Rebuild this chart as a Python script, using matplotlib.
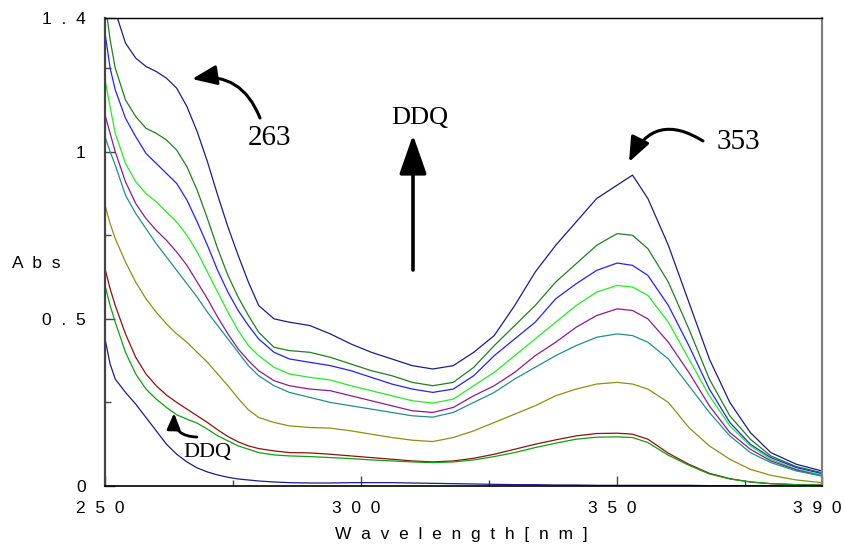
import matplotlib
matplotlib.use("Agg")
import matplotlib.pyplot as plt
import matplotlib.transforms as mtransforms
from matplotlib.ticker import FixedLocator

# ---------------- data ----------------
wavelength = [250, 251, 252, 254, 256, 258, 260, 262, 264, 266, 268, 270, 272, 274, 276, 278,
              280, 283, 286, 290, 294, 298, 302, 306, 310, 314, 318, 322, 326, 330, 334,
              338, 342, 346, 350, 353, 356, 360, 364, 368, 372, 376, 380, 385, 390]

abs_navy_top = [1.50, 1.46, 1.42, 1.325, 1.28, 1.255, 1.24, 1.22, 1.19, 1.135, 1.06, 0.97, 0.87, 0.775, 0.69, 0.61,
                0.54, 0.50, 0.49, 0.48, 0.455, 0.425, 0.40, 0.38, 0.36, 0.35, 0.36, 0.40, 0.45, 0.54, 0.64,
                0.72, 0.79, 0.86, 0.90, 0.93, 0.86, 0.72, 0.55, 0.38, 0.25, 0.16, 0.10, 0.065, 0.045]
abs_darkgreen = [1.45, 1.335, 1.25, 1.155, 1.105, 1.07, 1.055, 1.035, 1.005, 0.955, 0.885, 0.80, 0.71, 0.63, 0.565, 0.51,
                 0.46, 0.415, 0.405, 0.40, 0.385, 0.365, 0.345, 0.33, 0.31, 0.30, 0.31, 0.355, 0.42, 0.48, 0.54,
                 0.61, 0.665, 0.72, 0.755, 0.75, 0.71, 0.61, 0.47, 0.32, 0.21, 0.14, 0.09, 0.058, 0.04]
abs_blue = [1.355, 1.25, 1.185, 1.10, 1.045, 0.995, 0.965, 0.935, 0.905, 0.855, 0.79, 0.72, 0.645, 0.58, 0.525, 0.48,
            0.44, 0.40, 0.38, 0.37, 0.36, 0.345, 0.325, 0.305, 0.29, 0.28, 0.29, 0.33, 0.39, 0.44, 0.49,
            0.56, 0.605, 0.645, 0.667, 0.66, 0.63, 0.54, 0.42, 0.29, 0.19, 0.125, 0.085, 0.055, 0.037]
abs_lime = [1.215, 1.134, 1.055, 0.965, 0.91, 0.875, 0.85, 0.82, 0.79, 0.75, 0.70, 0.64, 0.58, 0.52, 0.465, 0.42,
            0.39, 0.355, 0.335, 0.325, 0.317, 0.30, 0.285, 0.27, 0.255, 0.248, 0.26, 0.30, 0.34, 0.39, 0.44,
            0.49, 0.54, 0.58, 0.60, 0.595, 0.57, 0.49, 0.38, 0.27, 0.18, 0.12, 0.08, 0.05, 0.033]
abs_purple = [1.11, 1.055, 1.00, 0.91, 0.845, 0.80, 0.765, 0.735, 0.70, 0.66, 0.61, 0.56, 0.505, 0.455, 0.41, 0.375,
              0.345, 0.315, 0.30, 0.29, 0.285, 0.27, 0.255, 0.24, 0.225, 0.22, 0.235, 0.27, 0.30, 0.34, 0.39,
              0.43, 0.475, 0.51, 0.53, 0.525, 0.50, 0.43, 0.34, 0.24, 0.16, 0.11, 0.075, 0.048, 0.03]
abs_teal = [1.045, 1.00, 0.96, 0.87, 0.815, 0.77, 0.725, 0.685, 0.645, 0.605, 0.565, 0.52, 0.48, 0.44, 0.40, 0.36,
            0.33, 0.30, 0.28, 0.265, 0.25, 0.24, 0.23, 0.22, 0.21, 0.206, 0.22, 0.25, 0.28, 0.32, 0.355,
            0.39, 0.42, 0.445, 0.455, 0.45, 0.43, 0.38, 0.30, 0.22, 0.15, 0.10, 0.07, 0.045, 0.03]
abs_olive = [0.84, 0.785, 0.74, 0.67, 0.61, 0.56, 0.52, 0.485, 0.455, 0.43, 0.40, 0.37, 0.335, 0.30, 0.262, 0.228,
             0.205, 0.19, 0.18, 0.175, 0.173, 0.165, 0.155, 0.145, 0.137, 0.133, 0.145, 0.165, 0.19, 0.215, 0.24,
             0.27, 0.29, 0.305, 0.31, 0.305, 0.29, 0.25, 0.175, 0.12, 0.08, 0.05, 0.032, 0.018, 0.01]
abs_darkred = [0.65, 0.59, 0.54, 0.455, 0.385, 0.335, 0.30, 0.272, 0.25, 0.23, 0.21, 0.19, 0.168, 0.148, 0.132, 0.12,
               0.112, 0.105, 0.10, 0.099, 0.095, 0.09, 0.085, 0.08, 0.075, 0.072, 0.075, 0.083, 0.095, 0.11, 0.125,
               0.138, 0.15, 0.157, 0.158, 0.155, 0.14, 0.098, 0.065, 0.038, 0.022, 0.012, 0.007, 0.004, 0.003]
abs_green = [0.60, 0.54, 0.49, 0.40, 0.335, 0.29, 0.26, 0.235, 0.213, 0.20, 0.188, 0.17, 0.15, 0.135, 0.12, 0.11,
             0.10, 0.093, 0.09, 0.088, 0.085, 0.082, 0.078, 0.075, 0.072, 0.07, 0.072, 0.078, 0.088, 0.10, 0.115,
             0.128, 0.14, 0.146, 0.147, 0.145, 0.13, 0.092, 0.062, 0.036, 0.021, 0.012, 0.007, 0.004, 0.003]
abs_navy_bottom = [0.44, 0.365, 0.32, 0.28, 0.245, 0.205, 0.165, 0.125, 0.095, 0.072, 0.054, 0.042, 0.033, 0.026, 0.021, 0.018,
                   0.015, 0.012, 0.01, 0.009, 0.009, 0.01, 0.01, 0.01, 0.009, 0.008, 0.007, 0.006, 0.005, 0.004, 0.004,
                   0.003, 0.003, 0.002, 0.002, 0.002, 0.002, 0.002, 0.002, 0.001, 0.001, 0.001, 0.001, 0.001, 0.001]

series = [abs_navy_top, abs_darkgreen, abs_blue, abs_lime, abs_purple, abs_teal,
          abs_olive, abs_darkred, abs_green, abs_navy_bottom]
colors = ['#1c1c8a', '#1f7f1f', '#2222ff', '#22ee22', '#8e1a8e', '#1f8f8f',
          '#8f8f10', '#8f1010', '#10a010', '#1c1c8a']

x_major = [250, 300, 350, 390]
x_major_labels = ['2  5  0', '3  0  0', '3  5  0', '3  9  0']
x_minor = [275, 325, 375]
y_major = [0, 0.5, 1.0, 1.4]
y_major_labels = ['0', '0  .  5', '1', '1  .  4']
y_minor = [0.25, 0.75, 1.25]

# ---------------- figure ----------------
W, H = 845, 544
fig = plt.figure(figsize=(W / 100, H / 100), dpi=100)
ax = fig.add_axes([105 / W, 1 - 486 / H, (822 - 105) / W, (486 - 18) / H])

for ys, c in zip(series, colors):
    ax.plot(wavelength, ys, color=c, lw=0.9, solid_joinstyle='round')

ax.set_xlim(250, 390)
ax.set_ylim(0, 1.4)

sans = 'Liberation Sans'
serif = 'Liberation Serif'

ax.set_xticks(x_major)
ax.set_xticklabels(x_major_labels, fontfamily=sans, fontsize=12.5)
ax.xaxis.set_minor_locator(FixedLocator(x_minor))
ax.set_yticks(y_major)
ax.set_yticklabels(y_major_labels, fontfamily=sans, fontsize=12.5)
ax.yaxis.set_minor_locator(FixedLocator(y_minor))

ax.tick_params(axis='both', which='major', direction='in', length=7, width=1.0, color='#444444')
ax.tick_params(axis='both', which='minor', direction='in', length=4.3, width=1.0, color='#444444')
ax.tick_params(axis='x', which='major', pad=11)
ax.tick_params(axis='y', which='major', pad=14)
ax.tick_params(top=False, right=False, which='both')

offset = mtransforms.ScaledTranslation(-5 / 100, 0, fig.dpi_scale_trans)
for lab in ax.get_xticklabels():
    lab.set_transform(lab.get_transform() + offset)

ax.spines['left'].set_color('#444444')
ax.spines['left'].set_linewidth(1.6)
ax.spines['right'].set_color('#808080')
ax.spines['right'].set_linewidth(1.6)
ax.spines['top'].set_color('black')
ax.spines['top'].set_linewidth(1.0)
ax.spines['bottom'].set_color('black')
ax.spines['bottom'].set_linewidth(1.2)

fig.text(36 / W, 1 - 263 / H, 'A  b  s', fontfamily=sans, fontsize=12.5, ha='center', va='center')
fig.text(461 / W, 1 - 534 / H, 'W  a  v  e  l  e  n  g  t  h  [  n  m  ]', fontfamily=sans,
         fontsize=12.5, ha='center', va='center')

# ---------------- annotations ----------------
def px(xp, yp):
    """pixel position in the reference -> data coordinates"""
    return (250 + (xp - 105) / ((822 - 105) / 140.0), (486 - yp) / ((486 - 18) / 1.4))

ax.text(*px(270, 138), '263', fontfamily=serif, fontsize=21, ha='center', va='center')
ax.text(*px(420, 118), 'DDQ', fontfamily=serif, fontsize=19, ha='center', va='center')
ax.text(*px(738, 142), '353', fontfamily=serif, fontsize=21, ha='center', va='center')
ax.text(*px(207, 453), 'DDQ', fontfamily=serif, fontsize=16, ha='center', va='center')

def arrow(tail, head, rad, lw=2.2, hl=0.75, hw=0.3, ms=20):
    ax.annotate('', xy=px(*head), xytext=px(*tail),
                arrowprops=dict(arrowstyle='-|>,head_length=%g,head_width=%g' % (hl, hw),
                                connectionstyle='arc3,rad=%g' % rad,
                                color='black', lw=lw, mutation_scale=ms,
                                shrinkA=0, shrinkB=0))

arrow((260, 118), (192, 79), 0.4)
arrow((703, 141), (629, 162), 0.55)
arrow((197, 437), (174, 413), -0.5, lw=2.0, hl=0.6, hw=0.25, ms=16)
arrow((413, 270), (413, 135), 0.0, lw=2.6, hl=1.0, hw=0.35, ms=24)

fig.savefig('out.png', dpi=100)
